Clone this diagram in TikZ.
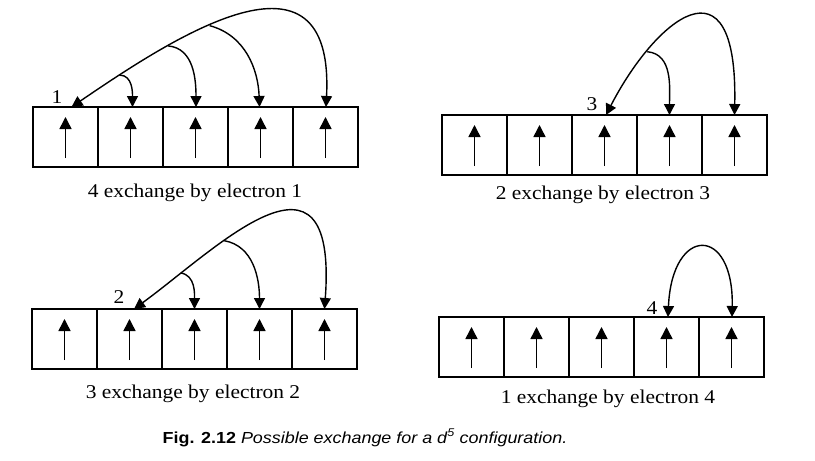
\documentclass[tikz,border=0pt]{standalone}
\usepackage{fontspec}
\setmainfont{Liberation Serif}[FakeStretch=1.1]
\newfontfamily\capfont{Liberation Sans}[FakeStretch=1.12]
\usetikzlibrary{arrows.meta}
\tikzset{
  orb/.style={draw, line width=1.4pt, minimum width=65pt, minimum height=60pt, inner sep=0pt, outer sep=0pt},
  spin/.style={line width=1.5pt, -{Triangle[width=12pt,length=12pt]}},
  xch/.style={line width=1.4pt, -{Triangle[width=11pt,length=11pt]}},
  xchb/.style={line width=1.4pt, {Triangle[width=11pt,length=11pt]}-{Triangle[width=11pt,length=11pt]}},
  txt/.style={font=\fontsize{19.5}{22}\selectfont, anchor=base, inner sep=0pt},
  figcap/.style={font=\capfont\fontsize{16}{19}\selectfont, anchor=base, inner sep=0pt},
}
\begin{document}
\begin{tikzpicture}[x=1pt,y=1pt]
\useasboundingbox (0,0) rectangle (815,-461);
% panels of five orbitals
\foreach \p/\L/\T in {1/33/107, 2/442/115, 3/32/309, 4/439/317}{
  \foreach \i in {1,...,5}{
    \node[orb] (p\p b\i) at ({\L+32.5+65*(\i-1)},{-(\T+30)}) {};
    \draw[spin] ([yshift=9pt]p\p b\i.south) -- ([yshift=-10pt]p\p b\i.north);
  }
}
% panel 1
\draw[xchb] ([xshift=6pt]p1b1.north) .. controls (170,-40) and (335,70) .. ([xshift=0.5pt]p1b5.north)
  coordinate[pos=0.15] (p1m1) coordinate[pos=0.29] (p1m2) coordinate[pos=0.41] (p1m3);
\draw[xch] (p1m1) to[out=0,in=90] ([xshift=2pt]p1b2.north);
\draw[xch] (p1m2) to[out=-5,in=90] ([xshift=0.5pt]p1b3.north);
\draw[xch] (p1m3) to[out=-15,in=92] ([xshift=-1pt]p1b4.north);
\node[txt] (l1) at (57,-103) {1};
\node[txt] (c1) at (195,-197) {4 exchange by electron 1};
% panel 2
\draw[xchb] ([xshift=1.5pt]p2b3.north) .. controls (655,-20) and (738,50) .. (p2b5.north)
  coordinate[pos=0.25] (p2m1);
\draw[xch] (p2m1) to[out=-5,in=90] (p2b4.north);
\node[txt] (l3) at (592,-110) {3};
\node[txt] (c2) at (603,-199) {2 exchange by electron 3};
% panel 3
\draw[xchb] ([xshift=4.5pt]p3b2.north) .. controls (215,-250) and (338,-125) .. (p3b5.north)
  coordinate[pos=0.18] (p3m1) coordinate[pos=0.34] (p3m2);
\draw[xch] (p3m1) to[out=-10,in=90] (p3b3.north);
\draw[xch] (p3m2) to[out=-10,in=90] (p3b4.north);
\node[txt] (l2) at (119,-303) {2};
\node[txt] (c3) at (193,-398) {3 exchange by electron 2};
% panel 4
\draw[xchb] ([xshift=1.5pt]p4b4.north) .. controls (672,-225) and (734,-225) .. ([xshift=0.5pt]p4b5.north);
\node[txt] (l4) at (652,-314) {4};
\node[txt] (c4) at (608,-403) {1 exchange by electron 4};
% figure caption
\node[figcap] (fig) at (365,-443) {\bfseries Fig. 2.12 \mdseries\itshape Possible exchange for a d\textsuperscript{5} configuration.};
\end{tikzpicture}
\end{document}
